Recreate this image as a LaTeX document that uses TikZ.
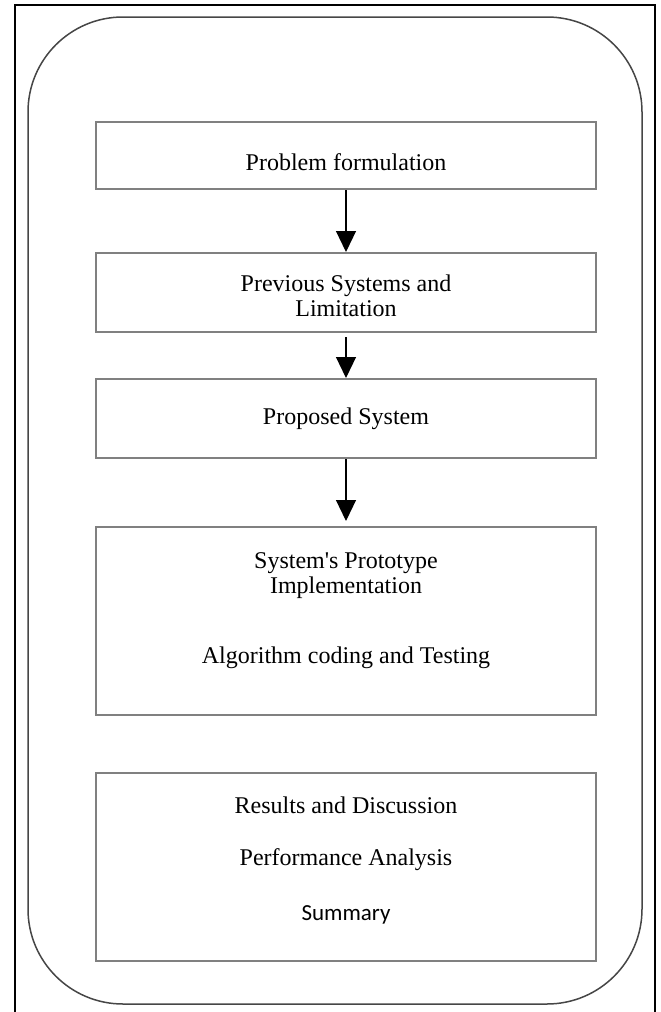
\documentclass[tikz,border=0pt]{standalone}
\usepackage{fontspec}
\setmainfont{Liberation Serif}
\newfontfamily\summaryfont{Carlito}
\usepackage{xcolor}
\usetikzlibrary{arrows.meta, positioning}
\definecolor{boxgray}{RGB}{128,128,128}
\definecolor{framegray}{RGB}{70,70,70}
\tikzset{
    stage/.style={rectangle, minimum width=250pt, draw=boxgray, line width=1pt,
        inner sep=0pt, align=center, font=\fontsize{12pt}{12.5pt}\selectfont},
    arrow/.style={line width=0.6pt, -{Triangle[width=10pt, length=10.5pt]}}
}

\begin{document}
\begin{tikzpicture}[x=0.5pt, y=-0.5pt]
\useasboundingbox (0,0) rectangle (660,1012);
\draw[line width=1pt] (15,1012) |- (655,5) -- (655,1012);
\draw[framegray, line width=0.75pt, rounded corners=47.5pt] (28,17) rectangle (642,1004);
\node[stage, minimum height=33.5pt, text height=14.5pt, text depth=0pt] (prob) at (346,155.5) {Problem formulation};
\node[stage, minimum height=39.5pt, text height=23.7pt] (prev) at (346,292.5) {Previous Systems and\\Limitation};
\node[stage, minimum height=39.5pt] (prop) at (346,418.5) {Proposed System};
\node[stage, minimum height=94pt, text depth=12.7pt] (impl) at (346,621) {System\textquotesingle s Prototype\\Implementation\\[22.5pt]Algorithm coding and Testing};
\node[stage, minimum height=94pt, text depth=8.7pt] (res) at (346,867) {Results and Discussion\\[13.5pt]Performance Analysis\\[15pt]{\summaryfont\fontsize{11.5pt}{12pt}\selectfont Summary}};
\draw[arrow] (prob) -- (prev);
\draw[arrow, shorten <=2pt] (prev) -- (prop);
\draw[arrow, shorten >=2.5pt] (prop) -- (impl);
\end{tikzpicture}
\end{document}
